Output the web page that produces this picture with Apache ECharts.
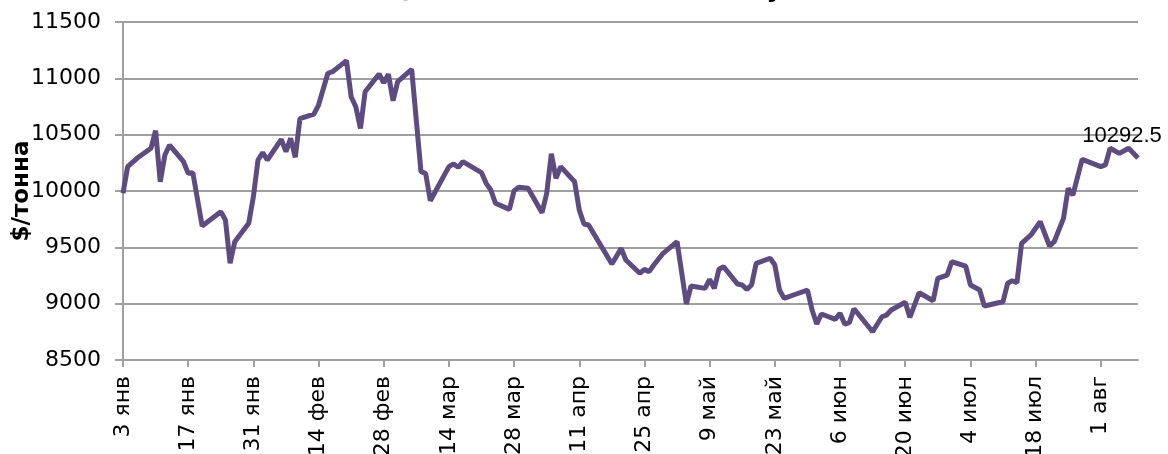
<!DOCTYPE html>
<html>
<head>
<meta charset="utf-8">
<script src="https://cdn.jsdelivr.net/npm/echarts@6/dist/echarts.min.js"></script>
<style>
  html, body { margin: 0; padding: 0; background: #fff; }
  #chart { width: 1168px; height: 454px; }
</style>
</head>
<body>
<div id="chart"></div>
<script>
// day offsets from 3 Jan
const days = [0,1,3,6,7,8,9,10,13,14, 15,17,21,22,23,24,27,28,29,30,
  31,34,35,36,37,38,41,42,44,45, 48,49,50,51,52,55,56,57,58,59,
  62,64,65,66,70,71,72,73,77,78, 79,80,83,84,85,87,90,91,92,93,
  94,97,98,99,100,105,107,108,111,112, 113,114,116,119,121,122,125,126,127,128,
  129,132,133,134,135,136,139,140,141,142, 144,147,148,149,150,153,154,155,156,157,
  161,163,164,165,168,169,171,174,175,177, 178,181,182,184,185,189,190,191,192,193,
  195,197,199,200,202,203,204,206,210,211, 212,214,216,218]

// $/тонна
const prices = [9980,10216,10290,10379,10535,10082,10320,10408,10260,10157,
  10163,9689,9816,9743,9358,9550,9713,9949,10275,10340,
  10275,10459,10349,10468,10299,10642,10683,10763,11045,11059,
  11157,10837,10748,10556,10881,11038,10961,11036,10801,10970,
  11080,10171,10157,9914,10216,10240,10210,10260,10163,10068,
  10009,9891,9837,10003,10033,10024,9807,9980,10330,10113,
  10216,10082,9831,9707,9698,9352,9491,9388,9270,9305,
  9284,9343,9447,9550,8997,9157,9136,9216,9136,9305,
  9328,9174,9166,9127,9166,9358,9403,9343,9121,9047,
  9077,9121,8944,8819,8908,8861,8914,8819,8831,8955,
  8751,8884,8899,8944,9012,8879,9097,9026,9225,9254,
  9372,9334,9166,9121,8979,9017,9181,9204,9186,9536,
  9610,9727,9512,9550,9757,10024,9964,10281,10216,10231,
  10379,10334,10379,10292.5]

const tickLabels = ['3 янв','17 янв','31 янв','14 фев','28 фев','14 мар','28 мар',
  '11 апр','25 апр','9 май','23 май','6 июн','20 июн','4 июл','18 июл','1 авг']
const tickDays = tickLabels.map((t, i) => i * 14)

const chart = echarts.init(document.getElementById('chart'))

const seriesData = days.map((d, i) => {
  const item = { value: [d, prices[i]] }
  if (i === days.length - 1) {
    item.label = { show: true }
  }
  return item
})

const option = {
  animation: false,
  title: {
    text: 'Цены на медь в 2011 году',
    left: 'center',
    top: -29,
    textStyle: { fontFamily: 'DejaVu Sans', fontSize: 26, fontWeight: 'bold', color: '#000' }
  },
  grid: { left: 123, right: 30, top: 22, bottom: 94, outerBoundsMode: 'none' },
  xAxis: {
    type: 'value',
    min: 0,
    max: 218,
    interval: 14,
    splitLine: { show: false },
    axisLine: { lineStyle: { color: '#a0a0a0', width: 2 } },
    axisTick: { customValues: tickDays, length: 7, lineStyle: { color: '#a0a0a0', width: 2 } },
    axisLabel: {
      customValues: tickDays,
      rotate: 90,
      margin: 16,
      fontFamily: 'DejaVu Sans',
      fontSize: 22,
      color: '#000',
      formatter: v => tickLabels[Math.round(v / 14)] || ''
    }
  },
  yAxis: {
    type: 'value',
    min: 8500,
    max: 11500,
    interval: 500,
    name: '$/тонна',
    nameLocation: 'middle',
    nameRotate: 90,
    nameGap: 89,
    nameMoveOverlap: false,
    nameTextStyle: { fontFamily: 'DejaVu Sans', fontSize: 23, fontWeight: 'bold', color: '#000' },
    axisLine: { show: true, lineStyle: { color: '#a0a0a0', width: 2 } },
    axisTick: { show: true, length: 8, lineStyle: { color: '#a0a0a0', width: 2 } },
    splitLine: { lineStyle: { color: '#a0a0a0', width: 2 } },
    axisLabel: {
      fontFamily: 'DejaVu Sans',
      fontSize: 22,
      color: '#000',
      margin: 22,
      formatter: v => String(v)
    }
  },
  series: [
    {
      type: 'line',
      data: seriesData,
      symbol: 'circle',
      symbolSize: 0,
      showSymbol: true,
      lineStyle: { color: '#5e4b7f', width: 5 },
      itemStyle: { color: '#5e4b7f' },
      label: {
        show: false,
        position: 'top',
        offset: [-16, -6],
        fontFamily: 'Liberation Sans',
        fontSize: 22,
        color: '#000',
        formatter: p => p.value[1]
      }
    }
  ]
}

chart.setOption(option)
</script>
</body>
</html>
